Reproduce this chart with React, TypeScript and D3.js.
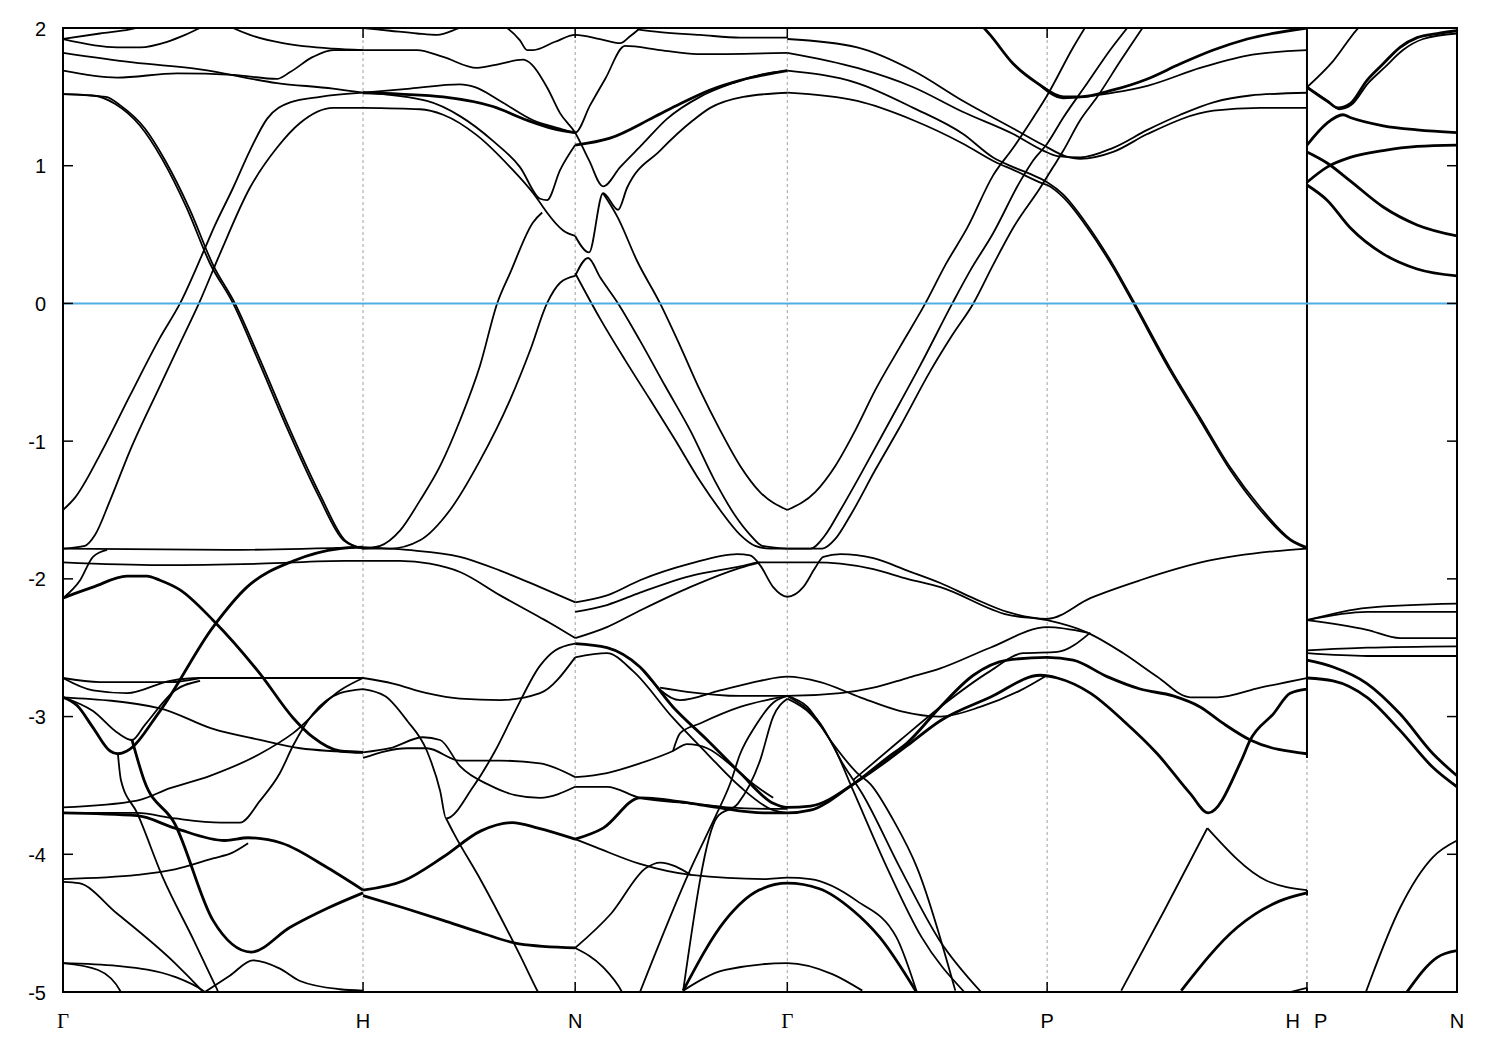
import React from 'react';
import * as d3 from 'd3';

type Pt = [number, number];

// High-symmetry points along the k-path (path length, 2π/a units)
const kPoints = [0, 1, 1.707, 2.414, 3.28, 4.146, 4.646];
const kLabels = ['Γ', 'H', 'N', 'Γ', 'P', 'H P', 'N'];
const yTicks = [2, 1, 0, -1, -2, -3, -4, -5];
const energyRange: [number, number] = [-5, 2];
const fermiLevel = 0;
// vertical connections of bands at the H|P discontinuity (E at H, E at P)
const hpJumps: Pt[] = [[2.0, -3.3], [-4.26, -4.3], [-4.97, -5.0]];

// ---------- bands above -1.8 eV ----------
const upperBands: Pt[][] = [
  [[0, 1.92], [0.123, 1.96], [0.223, 1.99], [0.3, 2.03]],
  [[0, 1.92], [0.18, 1.86], [0.257, 1.86], [0.347, 1.9], [0.407, 1.95], [0.457, 2.0], [0.49, 2.03]],
  [[0.54, 2.03], [0.567, 2.0], [0.623, 1.95], [0.733, 1.89], [0.9, 1.85], [1, 1.84]],
  [[0, 1.82], [0.233, 1.75], [0.457, 1.7], [0.713, 1.6], [0.9, 1.56], [1, 1.53]],
  [[0, 1.69], [0.18, 1.64], [0.38, 1.67], [0.567, 1.66], [0.713, 1.63], [0.757, 1.68], [0.833, 1.79], [0.9, 1.84], [1, 1.84]],
  [[0, 1.52], [0.143, 1.5], [0.19, 1.44], [0.273, 1.27], [0.34, 1.04], [0.423, 0.68], [0.5, 0.28], [0.573, 0], [0.657, -0.41], [0.757, -0.92], [0.857, -1.39], [0.94, -1.72], [1, -1.78]],
  [[0, 1.52], [0.1, 1.51], [0.173, 1.45], [0.257, 1.29], [0.33, 1.05], [0.413, 0.69], [0.49, 0.29], [0.567, 0], [0.65, -0.41], [0.75, -0.92], [0.85, -1.39], [0.935, -1.72], [1, -1.78]],
  [[0, -1.5], [0.04, -1.41], [0.123, -1.1], [0.223, -0.67], [0.323, -0.25], [0.39, 0], [0.467, 0.37], [0.507, 0.57], [0.567, 0.84], [0.623, 1.11], [0.68, 1.34], [0.757, 1.46], [0.857, 1.5], [1, 1.53]],
  [[0, -1.78], [0.073, -1.76], [0.107, -1.68], [0.157, -1.43], [0.223, -1.07], [0.323, -0.6], [0.39, -0.29], [0.453, 0], [0.523, 0.36], [0.623, 0.84], [0.713, 1.13], [0.79, 1.31], [0.9, 1.42], [1, 1.42]],
  [[1, 2.0], [1.09, 1.98], [1.18, 1.96], [1.247, 1.95], [1.323, 2.0], [1.357, 2.02]],
  [[1.457, 2.03], [1.48, 2.0], [1.523, 1.91], [1.547, 1.84], [1.567, 1.84], [1.64, 1.9], [1.707, 1.95], [1.79, 1.92], [1.857, 1.89], [1.89, 1.94], [1.913, 1.98], [1.927, 2.01]],
  [[1.913, 1.99], [1.99, 1.97], [2.123, 1.95], [2.257, 1.93], [2.414, 1.93]],
  [[1, 1.84], [1.18, 1.84], [1.267, 1.79], [1.38, 1.71], [1.457, 1.74], [1.533, 1.77], [1.547, 1.76], [1.613, 1.57], [1.657, 1.38], [1.707, 1.24], [1.753, 1.04], [1.8, 0.85], [1.857, 0.99], [1.933, 1.16], [2.013, 1.34], [2.123, 1.5], [2.233, 1.6], [2.323, 1.66], [2.414, 1.69]],
  [[1, 1.53], [1.157, 1.56], [1.323, 1.59], [1.373, 1.57], [1.457, 1.47], [1.567, 1.33], [1.657, 1.27], [1.707, 1.24], [1.757, 1.44], [1.807, 1.63], [1.873, 1.87], [1.99, 1.84], [2.113, 1.81], [2.414, 1.82]],
  [[1, 1.53], [1.213, 1.47], [1.323, 1.36], [1.433, 1.18], [1.523, 0.99], [1.59, 0.76], [1.613, 0.75], [1.657, 0.97], [1.707, 1.15]],
  [[1, 1.42], [1.19, 1.41], [1.267, 1.37], [1.38, 1.22], [1.49, 0.99], [1.567, 0.8], [1.597, 0.71], [1.613, 0.66], [1.667, 0.53], [1.707, 0.49]],
  [[1, -1.78], [1.057, -1.76], [1.123, -1.65], [1.19, -1.43], [1.257, -1.18], [1.323, -0.85], [1.39, -0.45], [1.447, 0], [1.49, 0.22], [1.567, 0.59], [1.597, 0.66]],
  [[1, -1.78], [1.09, -1.78], [1.19, -1.72], [1.29, -1.5], [1.39, -1.14], [1.49, -0.7], [1.557, -0.34], [1.613, 0], [1.657, 0.15], [1.707, 0.2]],
  [[1.707, 0.49], [1.753, 0.37], [1.8, 0.8], [1.85, 0.68], [1.88, 0.84], [1.99, 1.11], [2.1, 1.33], [2.157, 1.42], [2.267, 1.5], [2.414, 1.53]],
  [[1.707, 0.22], [1.79, -0.11], [1.873, -0.41], [1.957, -0.7], [2.04, -0.99], [2.123, -1.29], [2.19, -1.5], [2.257, -1.68], [2.307, -1.76], [2.357, -1.78], [2.414, -1.78]],
  [[1.707, 0.2], [1.75, 0.33], [1.79, 0.19], [1.85, 0], [1.923, -0.27], [2.007, -0.6], [2.09, -0.92], [2.173, -1.29], [2.24, -1.54], [2.29, -1.68], [2.33, -1.76], [2.414, -1.78]],
  [[1.8, 0.8], [1.85, 0.62], [1.913, 0.31], [1.99, 0], [2.057, -0.31], [2.123, -0.63], [2.19, -0.92], [2.257, -1.18], [2.323, -1.37], [2.414, -1.5]],
  [[2.414, -1.5], [2.507, -1.37], [2.574, -1.18], [2.641, -0.92], [2.707, -0.63], [2.791, -0.31], [2.874, 0], [2.941, 0.28], [3.014, 0.55], [3.1, 0.93], [3.167, 1.13], [3.234, 1.35], [3.28, 1.51], [3.367, 1.86], [3.414, 2.03]],
  [[2.414, -1.78], [2.531, -1.78], [2.574, -1.71], [2.624, -1.54], [2.707, -1.21], [2.791, -0.89], [2.891, -0.49], [2.964, -0.23], [3.034, 0], [3.1, 0.28], [3.167, 0.55], [3.257, 0.84], [3.3, 0.99], [3.334, 1.11], [3.39, 1.33], [3.447, 1.5], [3.524, 1.76], [3.607, 2.03]],
  [[2.414, -1.78], [2.491, -1.78], [2.541, -1.68], [2.591, -1.5], [2.674, -1.18], [2.757, -0.85], [2.857, -0.45], [2.964, 0], [3.024, 0.24], [3.1, 0.51], [3.191, 0.89], [3.234, 1.04], [3.28, 1.16], [3.334, 1.35], [3.414, 1.6], [3.49, 1.84], [3.547, 2.0]],
  [[2.414, 1.53], [2.647, 1.47], [2.834, 1.33], [3.0, 1.16], [3.114, 1.02], [3.167, 0.97], [3.267, 0.87], [3.28, 0.86], [3.334, 0.77], [3.414, 0.55], [3.5, 0.26], [3.567, 0], [3.69, -0.49], [3.79, -0.85], [3.89, -1.21], [3.99, -1.5], [4.09, -1.72], [4.146, -1.78]],
  [[2.414, 1.69], [2.647, 1.6], [2.834, 1.42], [3.0, 1.23], [3.1, 1.06], [3.167, 0.99], [3.234, 0.93], [3.28, 0.88], [3.334, 0.79], [3.414, 0.57], [3.5, 0.28], [3.567, 0.02], [3.69, -0.47], [3.79, -0.83], [3.89, -1.19], [3.99, -1.48], [4.09, -1.71], [4.146, -1.77]],
  [[2.414, 1.82], [2.647, 1.71], [2.834, 1.57], [3.0, 1.39], [3.167, 1.23], [3.267, 1.11], [3.314, 1.07], [3.39, 1.06], [3.5, 1.13], [3.614, 1.26], [3.724, 1.37], [3.834, 1.46], [3.957, 1.51], [4.146, 1.53]],
  [[2.414, 1.92], [2.647, 1.86], [2.834, 1.69], [3.0, 1.47], [3.167, 1.27], [3.267, 1.15], [3.34, 1.07], [3.39, 1.05], [3.5, 1.1], [3.614, 1.23], [3.834, 1.4], [3.99, 1.42], [4.146, 1.42]],
  [[3.247, 1.6], [3.334, 1.49], [3.5, 1.53], [3.614, 1.58], [3.79, 1.71], [3.947, 1.8], [4.146, 1.84]],
];

// degenerate (doubled) bands above -1.8 eV
const upperPairs: Pt[][] = [
  [[1, 1.53], [1.123, 1.52], [1.267, 1.5], [1.433, 1.43], [1.547, 1.33], [1.633, 1.27], [1.707, 1.24]],
  [[1.707, 1.15], [1.823, 1.2], [1.967, 1.35], [2.057, 1.45], [2.157, 1.55], [2.257, 1.62], [2.414, 1.69]],
  [[3.057, 2.03], [3.09, 1.95], [3.167, 1.74], [3.247, 1.6], [3.334, 1.5], [3.39, 1.5], [3.5, 1.55], [3.614, 1.63], [3.724, 1.74], [3.834, 1.84], [3.947, 1.92], [4.146, 2.0]],
];

// ---------- P–N panel ----------
const pnBands: Pt[][] = [
  [[4.146, 1.57], [4.233, 1.76], [4.313, 1.99], [4.34, 2.05]],
  [[4.146, -2.3], [4.346, -2.21], [4.646, -2.18]],
  [[4.146, -2.3], [4.346, -2.24], [4.646, -2.24]],
  [[4.146, -2.3], [4.346, -2.37], [4.456, -2.43], [4.646, -2.43]],
  [[4.146, -2.52], [4.346, -2.5], [4.646, -2.49]],
  [[4.146, -2.54], [4.346, -2.56], [4.646, -2.56]],
  [[4.339, -5.02], [4.356, -4.92], [4.456, -4.39], [4.566, -4.02], [4.646, -3.9]],
  [[4.146, 1.57], [4.22, 1.46], [4.253, 1.41], [4.293, 1.44], [4.35, 1.6], [4.403, 1.71], [4.466, 1.84], [4.533, 1.92], [4.646, 1.96]],
];
const pnPairs: Pt[][] = [
  [[4.146, 1.57], [4.213, 1.47], [4.25, 1.42], [4.29, 1.45], [4.346, 1.62], [4.4, 1.74], [4.456, 1.86], [4.513, 1.93], [4.58, 1.96], [4.646, 1.98]],
  [[4.146, 1.15], [4.213, 1.31], [4.266, 1.37], [4.29, 1.35], [4.4, 1.29], [4.513, 1.26], [4.646, 1.24]],
  [[4.146, 0.88], [4.213, 0.99], [4.29, 1.06], [4.4, 1.11], [4.513, 1.14], [4.646, 1.15]],
  [[4.146, 1.1], [4.213, 1.02], [4.29, 0.89], [4.4, 0.7], [4.513, 0.57], [4.646, 0.49]],
  [[4.146, 0.86], [4.213, 0.75], [4.29, 0.55], [4.4, 0.36], [4.513, 0.25], [4.646, 0.2]],
  [[4.146, -2.59], [4.233, -2.64], [4.346, -2.76], [4.456, -2.98], [4.566, -3.27], [4.646, -3.43]],
  [[4.146, -2.72], [4.233, -2.74], [4.346, -2.86], [4.456, -3.1], [4.566, -3.37], [4.646, -3.51]],
  [[4.479, -5.0], [4.579, -4.75], [4.646, -4.7]],
];

// ---------- bands below -1.7 eV ----------
const lowerBands: Pt[][] = [
  [[0, -2.14], [0.057, -2.01], [0.1, -1.84], [0.147, -1.79]],
  [[0, -1.78], [0.547, -1.79], [1, -1.77]],
  [[0, -1.88], [0.323, -1.9], [0.657, -1.89], [0.94, -1.87], [1, -1.87]],
  [[0, -2.72], [0.1, -2.81], [0.213, -2.83], [0.357, -2.74], [0.457, -2.72], [0.657, -2.72], [1, -2.72]],
  [[0, -2.72], [0.123, -2.75], [0.357, -2.75], [0.457, -2.72]],
  [[0, -2.86], [0.323, -2.94], [0.5, -3.09], [0.657, -3.17], [0.79, -3.23], [1, -3.26]],
  [[0, -2.86], [0.1, -2.96], [0.183, -3.12], [0.23, -3.17], [0.273, -3.06], [0.373, -2.81], [0.457, -2.74]],
  [[0, -3.66], [0.247, -3.61], [0.357, -3.52], [0.49, -3.43], [0.657, -3.27], [0.767, -3.12], [0.923, -2.81], [1, -2.72]],
  [[0, -3.7], [0.247, -3.7], [0.373, -3.74], [0.527, -3.77], [0.59, -3.77], [0.657, -3.61], [0.723, -3.41], [0.767, -3.21], [0.833, -2.98], [0.923, -2.83], [1, -2.8]],
  [[0, -4.18], [0.247, -4.15], [0.373, -4.11], [0.5, -4.03], [0.563, -3.99], [0.617, -3.92]],
  [[0, -4.2], [0.053, -4.21], [0.18, -4.43], [0.373, -4.79], [0.463, -4.99], [0.48, -5.03]],
  [[0, -4.79], [0.18, -4.81], [0.373, -4.89], [0.473, -5.0], [0.49, -5.03]],
  [[0, -4.79], [0.117, -4.84], [0.193, -5.0], [0.2, -5.03]],
  [[0.183, -3.27], [0.193, -3.46], [0.247, -3.7], [0.333, -4.17], [0.437, -4.63], [0.5, -4.92], [0.517, -5.0], [0.52, -5.02]],
  [[0.473, -5.0], [0.557, -4.88], [0.633, -4.77], [0.723, -4.83], [0.79, -4.92], [0.923, -4.98], [1, -4.99]],
  [[1, -1.77], [1.147, -1.79], [1.323, -1.84], [1.457, -1.94], [1.59, -2.06], [1.707, -2.17]],
  [[1, -1.87], [1.123, -1.87], [1.223, -1.89], [1.323, -1.95], [1.457, -2.12], [1.59, -2.28], [1.623, -2.32], [1.707, -2.43]],
  [[1, -2.72], [1.1, -2.76], [1.213, -2.83], [1.323, -2.87], [1.457, -2.88], [1.59, -2.83], [1.707, -2.57]],
  [[1, -2.8], [1.073, -2.85], [1.147, -3.03], [1.213, -3.25], [1.257, -3.54], [1.277, -3.74], [1.367, -3.51], [1.44, -3.25], [1.507, -2.96], [1.59, -2.63], [1.64, -2.52], [1.707, -2.47]],
  [[1, -3.26], [1.09, -3.23], [1.2, -3.15], [1.257, -3.17], [1.323, -3.36], [1.423, -3.5], [1.507, -3.57], [1.59, -3.59], [1.707, -3.51]],
  [[1, -3.3], [1.147, -3.23], [1.213, -3.23], [1.323, -3.32], [1.457, -3.32], [1.59, -3.34], [1.707, -3.44]],
  [[1.277, -3.74], [1.303, -3.85], [1.393, -4.19], [1.52, -4.72], [1.583, -5.0], [1.59, -5.03]],
  [[1.707, -4.68], [1.8, -4.82], [1.863, -5.0], [1.87, -5.03]],
  [[1.707, -4.68], [1.827, -4.43], [1.943, -4.1], [1.99, -4.06], [2.093, -4.15]],
  [[1.707, -3.89], [1.777, -3.95], [1.923, -4.07], [2.093, -4.15], [2.337, -4.18], [2.414, -4.17], [2.491, -4.18], [2.647, -4.34], [2.777, -4.6], [2.847, -5.01]],
  [[1.707, -2.17], [1.813, -2.12], [1.923, -2.01], [2.09, -1.89], [2.247, -1.82], [2.29, -1.83], [2.323, -1.9], [2.367, -2.06], [2.414, -2.13], [2.467, -2.06], [2.507, -1.92], [2.534, -1.84], [2.591, -1.82], [2.701, -1.85], [2.814, -1.94], [2.924, -2.03], [3.034, -2.14], [3.147, -2.24], [3.28, -2.29], [3.424, -2.14], [3.59, -2.01], [3.814, -1.87], [4.034, -1.8], [4.146, -1.78]],
  [[1.707, -2.24], [1.813, -2.19], [1.923, -2.1], [2.09, -1.98], [2.257, -1.91], [2.323, -1.88], [2.414, -1.88], [2.507, -1.88], [2.591, -1.89], [2.701, -1.93], [2.814, -2.0], [2.924, -2.06], [3.147, -2.26], [3.28, -2.3], [3.414, -2.39], [3.534, -2.54], [3.647, -2.71], [3.757, -2.86], [3.847, -2.86], [3.99, -2.79], [4.146, -2.72]],
  [[1.707, -2.43], [1.813, -2.35], [1.923, -2.23], [2.09, -2.06], [2.257, -1.92], [2.323, -1.88]],
  [[1.707, -2.57], [1.813, -2.54], [1.9, -2.67], [2.033, -3.01], [2.147, -3.27], [2.257, -3.51], [2.367, -3.68], [2.414, -3.7]],
  [[1.707, -3.44], [1.813, -3.41], [1.923, -3.34], [2.033, -3.25], [2.08, -3.2], [2.147, -3.23], [2.257, -3.41], [2.313, -3.51], [2.367, -3.59]],
  [[1.707, -3.51], [1.813, -3.51], [1.923, -3.59], [2.09, -3.63], [2.18, -3.65], [2.213, -3.66], [2.367, -3.67], [2.414, -3.67]],
  [[1.923, -5.0], [2.093, -4.1], [2.18, -3.7], [2.223, -3.49], [2.257, -3.27], [2.307, -3.07], [2.367, -2.9], [2.414, -2.85]],
  [[2.067, -4.99], [2.18, -3.73], [2.25, -3.63], [2.323, -3.32], [2.367, -3.0], [2.414, -2.87]],
  [[2.033, -3.25], [2.057, -3.12], [2.123, -3.05], [2.257, -2.93], [2.414, -2.85]],
  [[1.923, -2.64], [2.057, -2.88], [2.19, -2.81], [2.323, -2.74], [2.414, -2.71], [2.524, -2.75], [2.657, -2.86], [2.791, -2.96], [2.924, -3.0], [3.057, -2.93], [3.191, -2.81], [3.28, -2.7]],
  [[1.99, -2.79], [2.08, -2.82], [2.257, -2.85], [2.414, -2.85], [2.591, -2.83], [2.701, -2.79], [2.814, -2.72], [2.924, -2.65], [3.09, -2.5], [3.28, -2.35], [3.414, -2.39]],
  [[2.414, -2.85], [2.481, -2.93], [2.557, -3.17], [2.647, -3.41], [2.691, -3.49], [2.767, -3.75], [2.847, -4.1], [2.974, -4.99]],
  [[2.414, -2.87], [2.491, -2.98], [2.567, -3.21], [2.634, -3.54], [2.747, -4.1], [2.861, -4.6], [3.004, -5.0]],
  [[2.414, -2.85], [2.524, -3.05], [2.601, -3.35], [2.664, -3.56], [2.79, -4.1], [2.92, -4.62], [3.06, -5.0]],
  [[2.634, -3.46], [2.791, -3.17], [2.924, -2.93], [3.09, -2.67], [3.2, -2.54], [3.314, -2.53], [3.424, -2.39]],
  [[2.067, -4.99], [2.207, -4.84], [2.414, -4.79], [2.564, -4.87], [2.664, -4.99]],
  [[3.814, -3.81], [4.01, -4.19], [4.146, -4.26]],
  [[3.527, -4.99], [3.67, -4.41], [3.814, -3.81]],
  [[4.09, -5.0], [4.146, -4.97]],
];

const lowerPairs: Pt[][] = [
  [[0, -2.14], [0.023, -2.12], [0.1, -2.06], [0.213, -1.98], [0.28, -1.98], [0.323, -2.01], [0.39, -2.08], [0.5, -2.3], [0.657, -2.69], [0.767, -3.01], [0.833, -3.15], [0.923, -3.25], [1, -3.26]],
  [[0, -2.86], [0.047, -2.92], [0.1, -3.08], [0.157, -3.25], [0.183, -3.27], [0.213, -3.25], [0.323, -2.96], [0.5, -2.35], [0.613, -2.06], [0.767, -1.87], [0.923, -1.78], [1, -1.77]],
  [[0, -3.7], [0.247, -3.72], [0.373, -3.81], [0.54, -3.9], [0.617, -3.88], [0.73, -3.92], [0.883, -4.1], [1, -4.26]],
  [[0.23, -3.17], [0.27, -3.46], [0.373, -3.78], [0.5, -4.48], [0.627, -4.71], [0.757, -4.53], [0.883, -4.39], [1, -4.28]],
  [[1, -4.26], [1.137, -4.19], [1.267, -4.02], [1.393, -3.83], [1.497, -3.77], [1.583, -3.81], [1.707, -3.89]],
  [[1, -4.3], [1.137, -4.39], [1.267, -4.48], [1.393, -4.57], [1.52, -4.65], [1.707, -4.68]],
  [[1.707, -3.89], [1.8, -3.81], [1.923, -3.59], [2.093, -3.63], [2.18, -3.66], [2.337, -3.7], [2.414, -3.7], [2.491, -3.68], [2.634, -3.49], [2.747, -3.32], [2.814, -3.21], [2.924, -3.03], [3.09, -2.86], [3.257, -2.7], [3.314, -2.72], [3.424, -2.83], [3.534, -3.03], [3.647, -3.27], [3.757, -3.56], [3.817, -3.7], [3.927, -3.32], [3.957, -3.17], [4.034, -2.98], [4.09, -2.83], [4.146, -2.8]],
  [[1.707, -2.47], [1.813, -2.5], [1.923, -2.64], [2.033, -2.93], [2.147, -3.17], [2.257, -3.41], [2.367, -3.63], [2.414, -3.66], [2.491, -3.65], [2.634, -3.49], [2.747, -3.3], [2.814, -3.19], [2.924, -2.93], [3.034, -2.7], [3.147, -2.59], [3.28, -2.57], [3.367, -2.59], [3.48, -2.71], [3.59, -2.8], [3.7, -2.85], [3.79, -2.93], [3.867, -3.05], [3.957, -3.17], [4.146, -3.27]],
  [[2.067, -4.99], [2.207, -4.48], [2.32, -4.26], [2.414, -4.21], [2.521, -4.25], [2.634, -4.41], [2.721, -4.6], [2.847, -5.01]],
  [[3.727, -4.99], [3.914, -4.53], [4.054, -4.34], [4.146, -4.28]],
];

export default function App() {
  const W = 1500;
  const H = 1050;
  const left = 63, right = 1457, top = 28, bottom = 992;
  const x = d3.scaleLinear().domain([kPoints[0], kPoints[kPoints.length - 1]]).range([left, right]);
  const y = d3.scaleLinear().domain(energyRange).range([bottom, top]);
  const line = d3.line<Pt>().x(d => x(d[0])).y(d => y(d[1])).curve(d3.curveMonotoneX);
  const font = '"Liberation Sans", Arial, Helvetica, sans-serif';
  const hpK = kPoints[5];

  const thin = [...upperBands, ...pnBands, ...lowerBands];
  const thick = [...upperPairs, ...pnPairs, ...lowerPairs];

  return (
    <svg width={W} height={H} style={{ position: 'absolute', left: 0, top: 0, background: '#fff' }}>
      <defs>
        <clipPath id="plotClip">
          <rect x={left} y={top} width={right - left} height={bottom - top} />
        </clipPath>
      </defs>
      <rect x={0} y={0} width={W} height={H} fill="#fff" />
      {kPoints.slice(1, -1).map((k, i) => (
        <line key={'g' + i} x1={x(k)} x2={x(k)} y1={top} y2={bottom} stroke="#a0a0a0" strokeWidth={1} strokeDasharray="3,3" />
      ))}
      <g clipPath="url(#plotClip)" fill="none" stroke="#000" strokeLinejoin="round">
        {thin.map((b, i) => (
          <path key={'t' + i} d={line(b) || ''} strokeWidth={1.8} />
        ))}
        {thick.map((b, i) => (
          <path key={'p' + i} d={line(b) || ''} strokeWidth={2.8} />
        ))}
        {hpJumps.map((j, i) => (
          <line key={'j' + i} x1={x(hpK)} x2={x(hpK)} y1={y(j[0])} y2={y(j[1])} strokeWidth={2} />
        ))}
      </g>
      <line x1={left} x2={right} y1={y(fermiLevel)} y2={y(fermiLevel)} stroke="#4eaee6" strokeWidth={2} />
      <rect x={left} y={top} width={right - left} height={bottom - top} fill="none" stroke="#000" strokeWidth={2} />
      {yTicks.map(t => (
        <g key={'y' + t}>
          <line x1={left} x2={left + 10} y1={y(t)} y2={y(t)} stroke="#000" strokeWidth={1.5} />
          <line x1={right - 10} x2={right} y1={y(t)} y2={y(t)} stroke="#000" strokeWidth={1.5} />
          <text x={46} y={y(t) + 7.5} textAnchor="end" fontFamily={font} fontSize={20} fill="#000">{String(t)}</text>
        </g>
      ))}
      {kPoints.map((k, i) => {
        const lbl = kLabels[i];
        const isGamma = lbl === 'Γ';
        const ticks = i > 0 && i < kPoints.length - 1 ? (
          <>
            <line x1={x(k)} x2={x(k)} y1={bottom} y2={bottom - 10} stroke="#000" strokeWidth={1.5} />
            <line x1={x(k)} x2={x(k)} y1={top} y2={top + 10} stroke="#000" strokeWidth={1.5} />
          </>
        ) : null;
        if (lbl.includes(' ')) {
          const [a, b] = lbl.split(' ');
          return (
            <g key={'x' + i}>
              {ticks}
              <text x={x(k) - 7} y={1028} textAnchor="end" fontFamily={font} fontSize={20}>{a}</text>
              <text x={x(k) + 7} y={1028} textAnchor="start" fontFamily={font} fontSize={20}>{b}</text>
            </g>
          );
        }
        return (
          <g key={'x' + i}>
            {ticks}
            <text x={x(k)} y={1028} textAnchor="middle"
              fontFamily={isGamma ? '"Liberation Serif", "Times New Roman", serif' : font}
              fontSize={isGamma ? 21 : 20}>{lbl}</text>
          </g>
        );
      })}
    </svg>
  );
}
